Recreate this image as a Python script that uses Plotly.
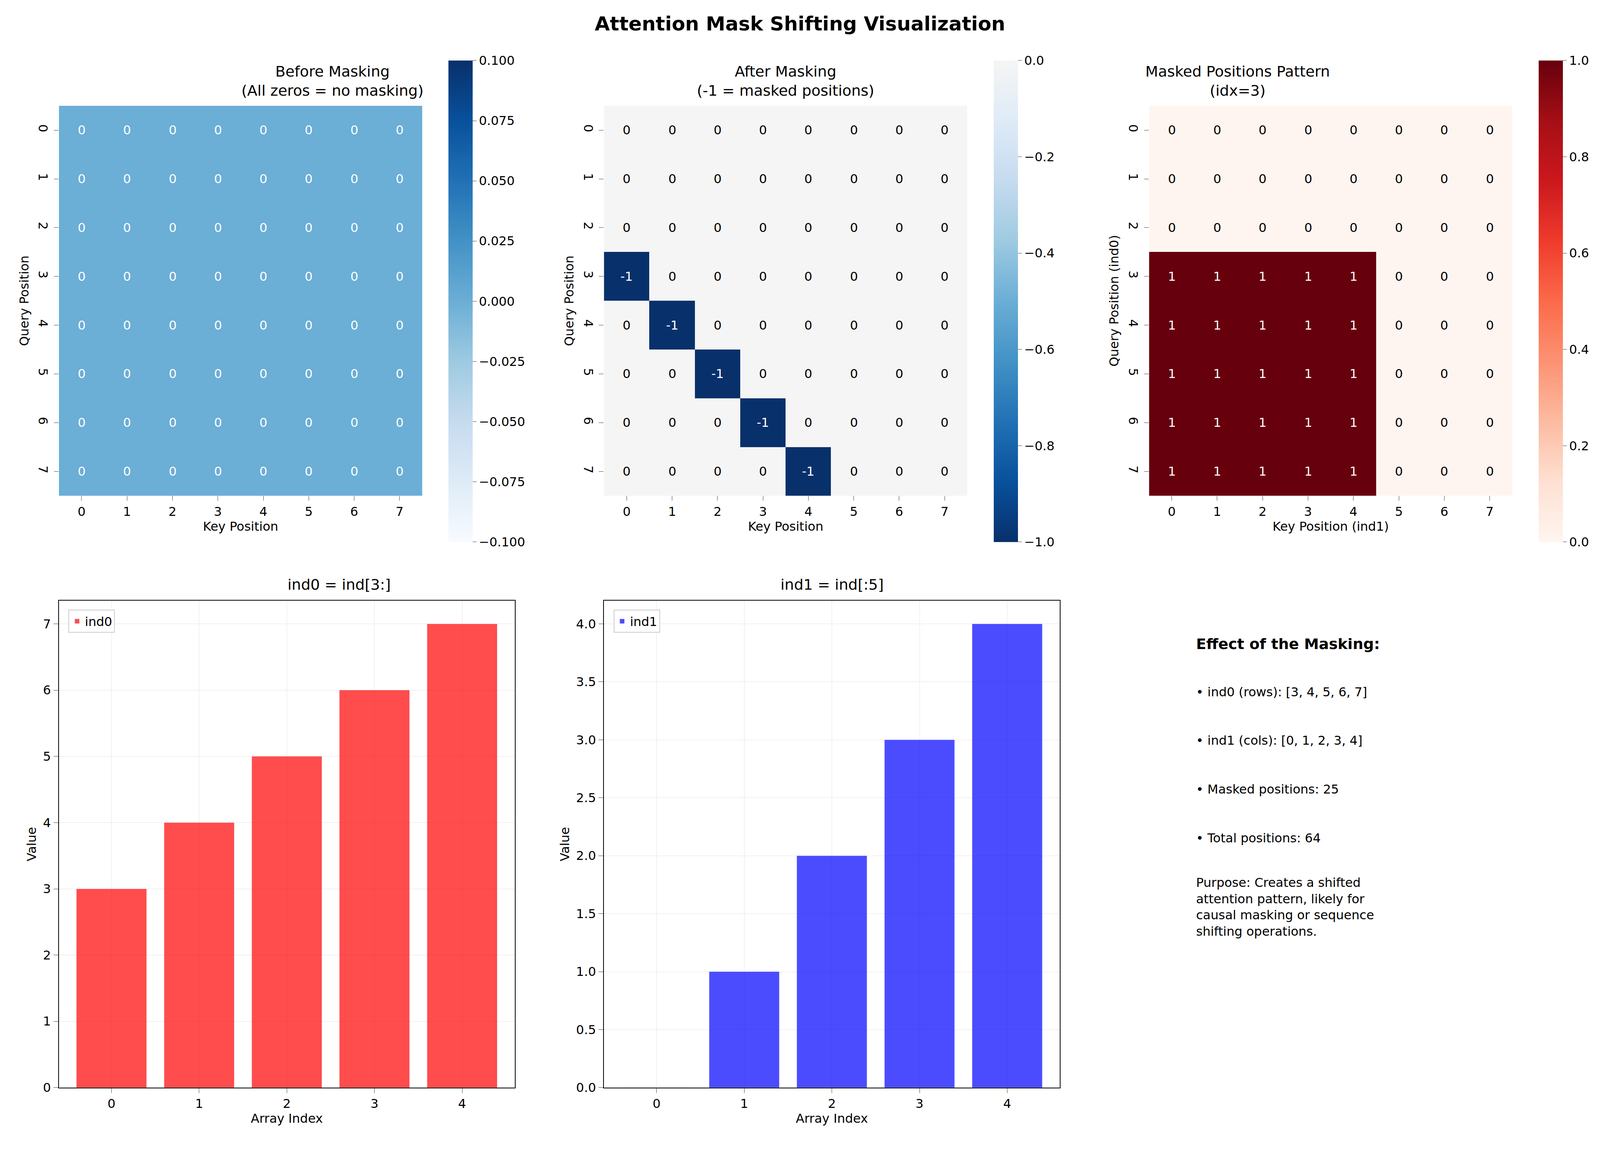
import numpy as np
import plotly.graph_objects as go

# data
n = 8
before = np.zeros((n, n), dtype=int)
after = np.zeros((n, n), dtype=int)
ind0 = [3, 4, 5, 6, 7]
ind1 = [0, 1, 2, 3, 4]
for r, c in zip(ind0, ind1):
    after[r, c] = -1
pattern = np.zeros((n, n), dtype=int)
for r in ind0:
    for c in ind1:
        pattern[r, c] = 1
bar_idx = [0, 1, 2, 3, 4]

FS = 32
font = dict(family="DejaVu Sans", size=FS, color="black")

fig = go.Figure()

# domains
hx = [(0.035, 0.263), (0.377, 0.605), (0.719, 0.947)]
cbx = [0.277, 0.619, 0.961]
hy = (0.568, 0.910)
bx = [(0.035, 0.321), (0.377, 0.663)]
by = (0.049, 0.476)

heat = [
    (before, [[0, "#f7fbff"], [0.125, "#deebf7"], [0.25, "#c6dbef"], [0.375, "#9ecae1"],
              [0.5, "#6baed6"], [0.625, "#4292c6"], [0.75, "#2171b5"], [0.875, "#08519c"], [1, "#08306b"]],
     -0.1, 0.1, [-0.1, -0.075, -0.05, -0.025, 0, 0.025, 0.05, 0.075, 0.1], ".3f",
     "Before Masking<br>(All zeros = no masking)", "Key Position", "Query Position"),
    (after, [[0, "#08306b"], [0.125, "#08519c"], [0.25, "#2171b5"], [0.375, "#4292c6"],
             [0.5, "#6baed6"], [0.625, "#9ecae1"], [0.75, "#c6dbef"], [0.875, "#deebf7"], [1, "#f5f5f5"]],
     -1, 0, [-1, -0.8, -0.6, -0.4, -0.2, 0], ".1f",
     "After Masking<br>(-1 = masked positions)", "Key Position", "Query Position"),
    (pattern, "Reds", 0, 1, [0, 0.2, 0.4, 0.6, 0.8, 1.0], ".1f",
     "Masked Positions Pattern<br>(idx=3)", "Key Position (ind1)", "Query Position (ind0)"),
]

for i, (z, cs, zmin, zmax, cbt, cbf, title, xt, yt) in enumerate(heat):
    k = i + 1
    xa, ya = f"x{k}", f"y{k}"
    fig.add_trace(go.Heatmap(
        z=z, x=list(range(n)), y=list(range(n)), colorscale=cs, zmin=zmin, zmax=zmax,
        xaxis=xa, yaxis=ya, xgap=0, ygap=0,
        colorbar=dict(x=cbx[i], xanchor="left", y=0.524, yanchor="bottom", len=0.429,
                      lenmode="fraction", thickness=62, tickvals=cbt, tickformat=cbf,
                      tickfont=font, outlinewidth=0, ticks="outside", ticklen=10)))
    for r in range(n):
        for c in range(n):
            v = z[r, c]
            if i == 0:
                col = "white"
            elif i == 1:
                col = "white" if v == -1 else "black"
            else:
                col = "white" if v == 1 else "black"
            fig.add_annotation(x=c, y=r, xref=xa, yref=ya, text=str(v), showarrow=False,
                               font=dict(family="DejaVu Sans", size=FS, color=col))
    fig.update_layout(**{
        f"xaxis{k}": dict(domain=hx[i], anchor=ya, range=[-0.5, 7.5], tickvals=list(range(n)),
                          ticks="outside", ticklen=12, tickfont=font, showgrid=False, zeroline=False,
                          title=dict(text=xt, font=font, standoff=8)),
        f"yaxis{k}": dict(domain=hy, anchor=xa, range=[7.5, -0.5], tickvals=list(range(n)),
                          ticks="outside", ticklen=12, tickfont=font, tickangle=90, showgrid=False,
                          zeroline=False, title=dict(text=yt, font=font, standoff=8)),
    })
    fig.add_annotation(x=sum(hx[i]) / 2, y=0.915, xref="paper", yref="paper", yanchor="bottom",
                       text=title, showarrow=False, font=dict(family="DejaVu Sans", size=38))

bars = [
    (ind0, "rgba(255,0,0,0.7)", "ind0", "ind0 = ind[3:]", [0, 7.35], 1, "d", "legend"),
    (ind1, "rgba(0,0,255,0.7)", "ind1", "ind1 = ind[:5]", [0, 4.2], 0.5, ".1f", "legend2"),
]
for j, (vals, col, name, title, yr, dt, tf, lg) in enumerate(bars):
    k = j + 4
    xa, ya = f"x{k}", f"y{k}"
    fig.add_trace(go.Bar(x=bar_idx, y=vals, marker_color=col, name=name, width=0.8,
                         xaxis=xa, yaxis=ya, legend=lg, showlegend=True))
    axstyle = dict(showline=True, linecolor="black", linewidth=2, mirror=True, ticks="outside",
                   ticklen=12, tickfont=font, showgrid=True, gridcolor="rgba(0,0,0,0.1)",
                   zeroline=False)
    fig.update_layout(**{
        f"xaxis{k}": dict(domain=bx[j], anchor=ya, range=[-0.6, 4.6], tickvals=bar_idx,
                          title=dict(text="Array Index", font=font, standoff=8), **axstyle),
        f"yaxis{k}": dict(domain=by, anchor=xa, range=yr, dtick=dt, tickformat=tf,
                          title=dict(text="Value", font=font, standoff=8), **axstyle),
        lg: dict(x=bx[j][0] + 0.006, y=by[1] - 0.008, xanchor="left", yanchor="top",
                 bgcolor="white", bordercolor="#cccccc", borderwidth=2, font=font),
    })
    fig.add_annotation(x=sum(bx[j]) / 2, y=by[1] + 0.006, xref="paper", yref="paper",
                       yanchor="bottom", text=title, showarrow=False,
                       font=dict(family="DejaVu Sans", size=38))

# text panel
tx = 0.748
fig.add_annotation(x=tx, y=0.438, xref="paper", yref="paper", xanchor="left", yanchor="middle",
                   text="<b>Effect of the Masking:</b>", showarrow=False,
                   font=dict(family="DejaVu Sans", size=38))
lines = [
    f"• ind0 (rows): {ind0}",
    f"• ind1 (cols): {ind1}",
    f"• Masked positions: {int(pattern.sum())}",
    f"• Total positions: {n * n}",
]
for m, t in enumerate(lines):
    fig.add_annotation(x=tx, y=0.396 - 0.0427 * m, xref="paper", yref="paper", xanchor="left",
                       yanchor="middle", text=t, showarrow=False, font=font)
fig.add_annotation(x=tx, y=0.236, xref="paper", yref="paper", xanchor="left", yanchor="top",
                   align="left", showarrow=False, font=font,
                   text="Purpose: Creates a shifted<br>attention pattern, likely for<br>"
                        "causal masking or sequence<br>shifting operations.")

fig.update_layout(
    autosize=True, paper_bgcolor="white", plot_bgcolor="white", font=font,
    margin=dict(l=0, r=0, t=0, b=0),
    title=dict(text="<b>Attention Mask Shifting Visualization</b>", x=0.5, y=0.982,
               xanchor="center", yanchor="middle", font=dict(family="DejaVu Sans", size=50)),
)

fig.write_html("out.html")
